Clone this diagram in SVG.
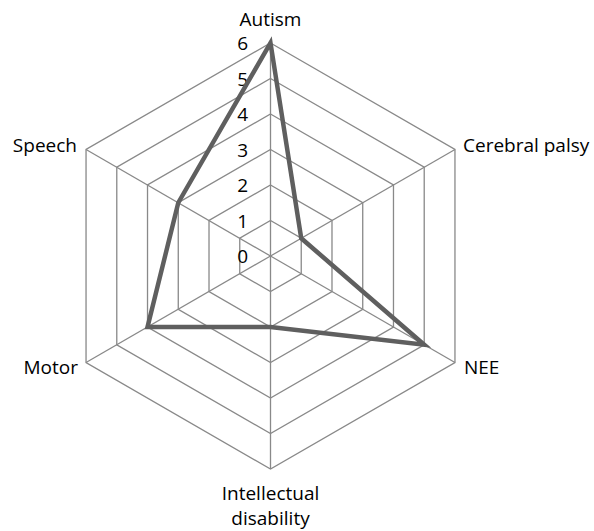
<svg xmlns="http://www.w3.org/2000/svg" width="594" height="531" viewBox="0 0 594 531">
  <style>
    .grid { fill: none; stroke: #898989; stroke-width: 1.3; }
    .series { fill: none; stroke: #5f5f5f; stroke-width: 4.5; stroke-linejoin: miter; }
    .lbl { font-family: "Open Sans", "Noto Sans", "Liberation Sans", sans-serif; font-size: 19px; fill: #000; }
    .tick { font-family: "Open Sans", "Noto Sans", "Liberation Sans", sans-serif; font-size: 19px; fill: #000; text-anchor: end; }
  </style>
  <rect width="594" height="531" fill="#fff"/>

  <!-- concentric hexagon gridlines, one ring per unit (0..6), centre at 270.5,256, 35.5 px per unit -->
  <g id="grid" class="grid">
    <polygon points="270.5,220.5 301.24,238.25 301.24,273.75 270.5,291.5 239.76,273.75 239.76,238.25"/>
    <polygon points="270.5,185 331.99,220.5 331.99,291.5 270.5,327 209.01,291.5 209.01,220.5"/>
    <polygon points="270.5,149.5 362.73,202.75 362.73,309.25 270.5,362.5 178.27,309.25 178.27,202.75"/>
    <polygon points="270.5,114 393.48,185 393.48,327 270.5,398 147.52,327 147.52,185"/>
    <polygon points="270.5,78.5 424.22,167.25 424.22,344.75 270.5,433.5 116.78,344.75 116.78,167.25"/>
    <polygon points="270.5,43 454.96,149.5 454.96,362.5 270.5,469 86.04,362.5 86.04,149.5"/>
  </g>

  <!-- spokes from the centre to each category -->
  <g id="connectors" class="grid">
    <line x1="270.5" y1="256" x2="270.5" y2="43"/>
    <line x1="270.5" y1="256" x2="454.96" y2="149.5"/>
    <line x1="270.5" y1="256" x2="454.96" y2="362.5"/>
    <line x1="270.5" y1="256" x2="270.5" y2="469"/>
    <line x1="270.5" y1="256" x2="86.04" y2="362.5"/>
    <line x1="270.5" y1="256" x2="86.04" y2="149.5"/>
  </g>

  <!-- axis values -->
  <g id="ticks" class="tick">
    <text x="248" y="263">0</text>
    <text x="248" y="227.5">1</text>
    <text x="248" y="192">2</text>
    <text x="248" y="156.5">3</text>
    <text x="248" y="121">4</text>
    <text x="248" y="85.5">5</text>
    <text x="248" y="50">6</text>
  </g>

  <!-- data series: Autism 6, Cerebral palsy 1, NEE 5, Intellectual disability 2, Motor 4, Speech 3 -->
  <g id="series">
    <polygon class="series" points="270.5,43 301.24,238.25 424.22,344.75 270.5,327 147.52,327 178.27,202.75"/>
  </g>

  <!-- category labels -->
  <g id="autism" class="lbl"><text x="270.5" y="26" text-anchor="middle">Autism</text></g>
  <g id="cerebral-palsy" class="lbl"><text x="463" y="152">Cerebral palsy</text></g>
  <g id="nee" class="lbl"><text x="464" y="374">NEE</text></g>
  <g id="intellectual-disability" class="lbl">
    <text x="270.5" y="500" text-anchor="middle">Intellectual</text>
    <text x="270.5" y="525" text-anchor="middle">disability</text>
  </g>
  <g id="motor" class="lbl"><text x="78" y="374" text-anchor="end">Motor</text></g>
  <g id="speech" class="lbl"><text x="77" y="152" text-anchor="end">Speech</text></g>
</svg>
